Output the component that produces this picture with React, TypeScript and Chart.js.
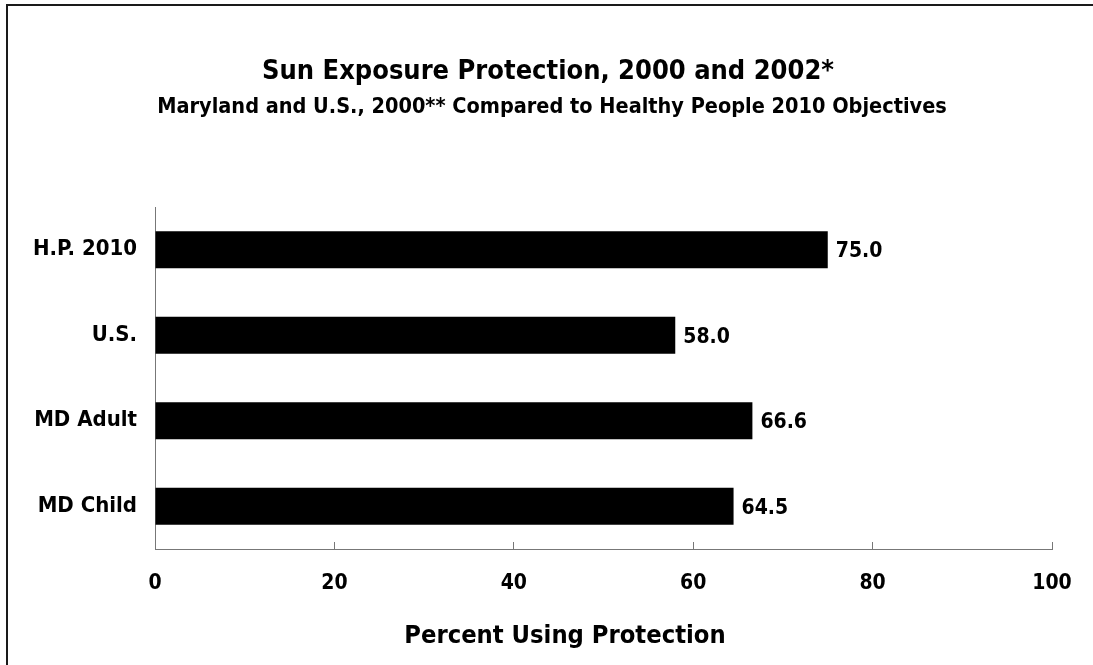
import React, { useEffect, useRef } from "react";
import { Chart, registerables } from "chart.js";

Chart.register(...registerables);

const categories = ["H.P. 2010", "U.S.", "MD Adult", "MD Child"];
const values = [75.0, 58.0, 66.6, 64.5];
const xTicks = [0, 20, 40, 60, 80, 100];
const titleText = "Sun Exposure Protection, 2000 and 2002*";
const subtitleText = "Maryland and U.S., 2000** Compared to Healthy People 2010 Objectives";
const xTitleText = "Percent Using Protection";

const FONT = "'DejaVu Sans Condensed', 'DejaVu Sans', sans-serif";

const decorPlugin = {
  id: "decor",
  beforeDraw(chart: any) {
    const ctx = chart.ctx;
    ctx.save();
    ctx.fillStyle = "#ffffff";
    ctx.fillRect(0, 0, chart.width, chart.height);
    ctx.fillStyle = "#1a1a1a";
    ctx.fillRect(6, 4, 2, chart.height - 4);
    ctx.fillRect(6, 4, chart.width - 6, 2);
    ctx.restore();
  },
  afterDraw(chart: any) {
    const ctx = chart.ctx;
    ctx.save();
    ctx.fillStyle = "#000";
    ctx.textBaseline = "alphabetic";
    ctx.textAlign = "center";
    ctx.font = `bold 27px ${FONT}`;
    ctx.fillText(titleText, 548, 79);
    ctx.font = `bold 21.5px ${FONT}`;
    ctx.fillText(subtitleText, 552, 113);
    ctx.font = `bold 25.3px ${FONT}`;
    ctx.fillText(xTitleText, 565, 643);

    const meta = chart.getDatasetMeta(0);
    ctx.font = `bold 21px ${FONT}`;
    ctx.textAlign = "left";
    meta.data.forEach((bar: any, i: number) => {
      ctx.fillText(values[i].toFixed(1), bar.x + 8, bar.y + 7.7);
    });
    ctx.restore();
  },
};

export default function App() {
  const ref = useRef<HTMLCanvasElement | null>(null);
  useEffect(() => {
    document.body.style.margin = "0";
    const chart = new Chart(ref.current as HTMLCanvasElement, {
      type: "bar",
      data: {
        labels: categories,
        datasets: [
          {
            data: values,
            backgroundColor: "#000000",
            borderWidth: 0,
            barPercentage: 37 / 85.5,
            categoryPercentage: 1,
          },
        ],
      },
      plugins: [decorPlugin],
      options: {
        indexAxis: "y",
        animation: false,
        responsive: false,
        layout: { padding: { top: 207, left: 0, right: 41, bottom: 0 } },
        plugins: {
          legend: { display: false },
          title: { display: false },
          tooltip: { enabled: false },
        },
        scales: {
          x: {
            type: "linear",
            min: 0,
            max: 100,
            afterBuildTicks: (scale: any) => {
              scale.ticks = xTicks.map((v) => ({ value: v }));
            },
            afterFit: (scale: any) => {
              scale.height = 116;
              scale.paddingLeft = 0;
              scale.paddingRight = 0;
            },
            grid: {
              drawOnChartArea: false,
              drawTicks: true,
              tickLength: -7,
              color: "#777777",
              lineWidth: 1,
            },
            border: { display: true, color: "#777777", width: 1 },
            ticks: {
              color: "#000",
              padding: 29,
              maxRotation: 0,
              font: { family: FONT, size: 21, weight: "bold" },
            },
          },
          y: {
            afterFit: (scale: any) => {
              scale.width = 155;
              scale.paddingTop = 0;
              scale.paddingBottom = 0;
            },
            grid: { drawOnChartArea: false, drawTicks: false },
            border: { display: true, color: "#777777", width: 1 },
            ticks: {
              color: "#000",
              padding: 18,
              font: { family: FONT, size: 22, weight: "bold" },
            },
          },
        },
      },
    } as any);
    return () => chart.destroy();
  }, []);
  return (
    <div style={{ width: 1093, height: 665 }}>
      <canvas ref={ref} width={1093} height={665} style={{ display: "block" }} />
    </div>
  );
}
